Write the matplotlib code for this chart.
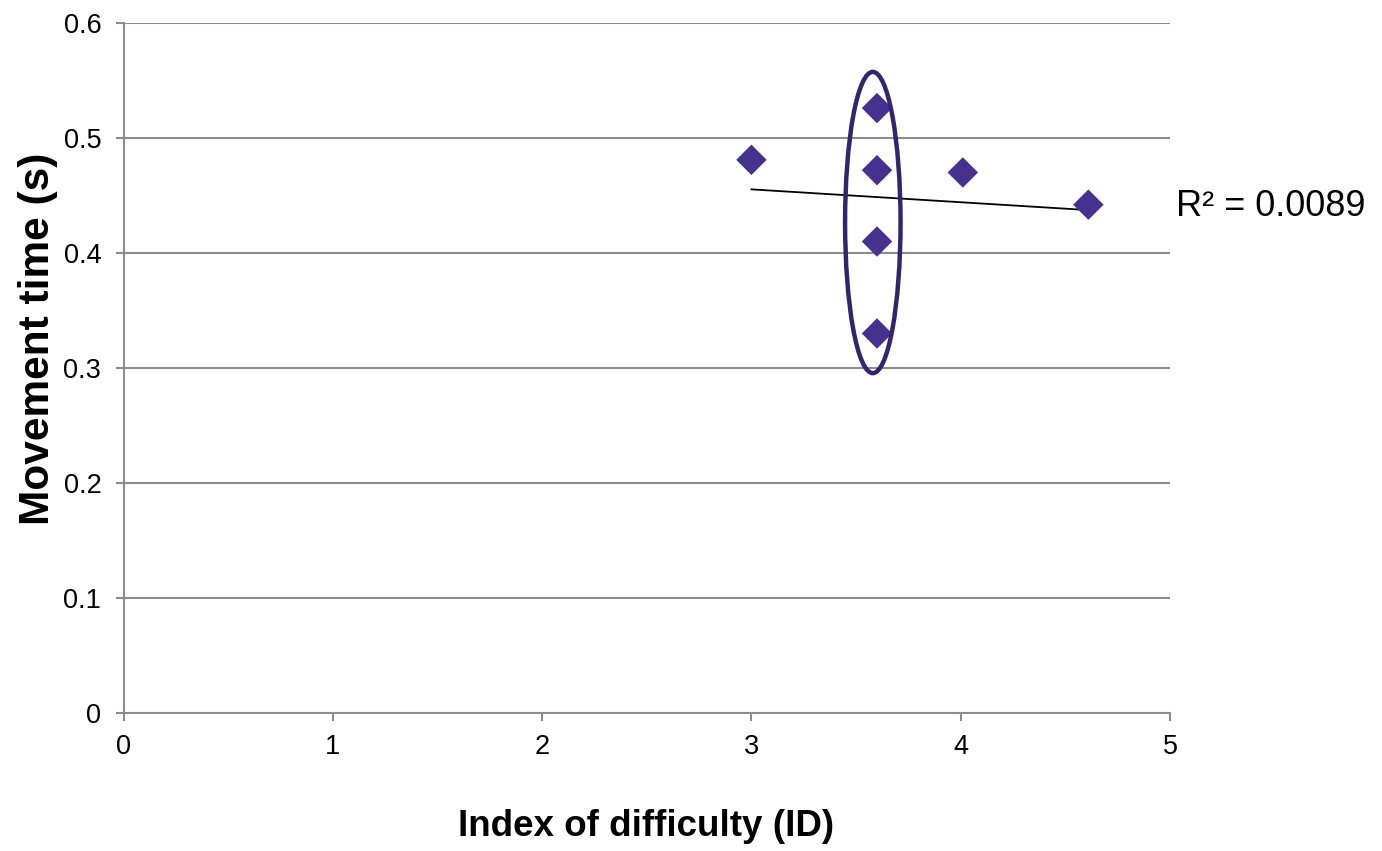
import matplotlib
matplotlib.use("Agg")
import matplotlib.pyplot as plt
from matplotlib.patches import Ellipse
import numpy as np

plt.rcParams['font.family'] = ['Liberation Sans', 'DejaVu Sans']

# Data
index_of_difficulty = [3.0, 3.6, 3.6, 3.6, 3.6, 4.01, 4.61]
movement_time = [0.481, 0.526, 0.472, 0.410, 0.330, 0.470, 0.442]
r2_label = "R² = 0.0089"
x_ticks = [0, 1, 2, 3, 4, 5]
y_ticks = [0, 0.1, 0.2, 0.3, 0.4, 0.5, 0.6]
y_tick_labels = ["0", "0.1", "0.2", "0.3", "0.4", "0.5", "0.6"]
ellipse_center = (3.58, 0.4265)
ellipse_size = (0.265, 0.262)

fig = plt.figure(figsize=(13.82, 8.51), dpi=100)
ax = fig.add_axes([0.0894, 0.1622, 0.8466 - 0.0894, 0.973 - 0.1622])

ax.set_xlim(0, 5)
ax.set_ylim(0, 0.6)
ax.set_xticks(x_ticks)
ax.set_yticks(y_ticks)
ax.set_yticklabels(y_tick_labels)

grid_color = '#8c8c8c'
ax.yaxis.grid(True, color=grid_color, linewidth=1.5)
ax.set_axisbelow(True)
for s in ['top', 'right']:
    ax.spines[s].set_visible(False)
for s in ['left', 'bottom']:
    ax.spines[s].set_color(grid_color)
    ax.spines[s].set_linewidth(1.5)
ax.tick_params(axis='both', colors=grid_color, width=1.5, length=6,
               labelcolor='black', labelsize=19.5, direction='out')
ax.tick_params(axis='x', pad=9)
ax.tick_params(axis='y', pad=10)

# Trend line
xs = np.array(index_of_difficulty)
ys = np.array(movement_time)
slope, intercept = np.polyfit(xs, ys, 1)
xl = np.array([xs.min(), xs.max()])
ax.plot(xl, slope * xl + intercept, color='black', linewidth=1.3, zorder=3)

ax.scatter(xs, ys, marker='D', s=15.5**2, color='#46318f', edgecolors='none',
           zorder=4, clip_on=False)

ell = Ellipse(ellipse_center, ellipse_size[0], ellipse_size[1], fill=False,
              edgecolor='#33246e', linewidth=3.2, zorder=5)
ax.add_patch(ell)

fig.text(1176 / 1382, 1 - 206 / 851, r2_label, fontsize=26, va='center', ha='left')

fig.text(646.5 / 1382, 1 - 827 / 851, "Index of difficulty (ID)", fontsize=26.5,
         fontweight='bold', ha='center', va='center')
fig.text(38 / 1382, 1 - 339 / 851, "Movement time (s)", fontsize=30.5,
         fontweight='bold', ha='center', va='center', rotation=90)

fig.savefig("out.png", dpi=100)
